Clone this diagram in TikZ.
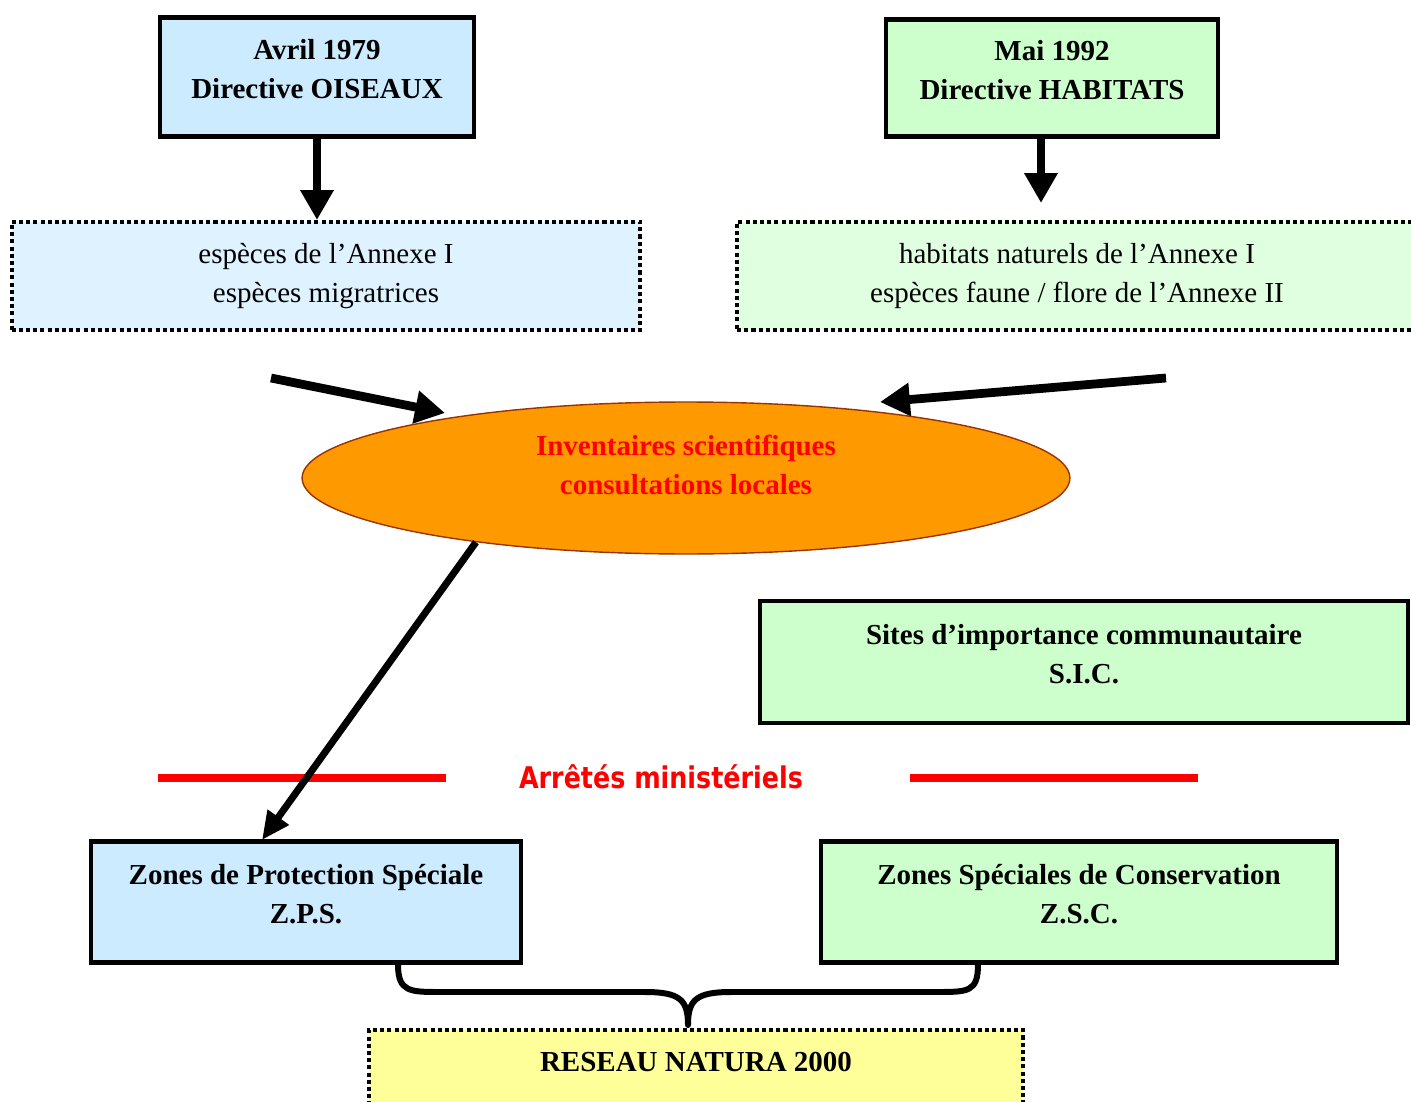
\documentclass[tikz,border=0pt]{standalone}
\usepackage{fontspec}
\setmainfont{Liberation Serif}
\newfontfamily\arrfont[FakeStretch=0.85]{DejaVu Sans}
\usetikzlibrary{arrows.meta,shapes.geometric,positioning}

\definecolor{bleu}{HTML}{CCEBFF}
\definecolor{bleuclair}{HTML}{DFF2FF}
\definecolor{vert}{HTML}{CCFFCC}
\definecolor{vertclair}{HTML}{E0FFE0}
\definecolor{jaune}{HTML}{FFFF99}
\definecolor{orange}{HTML}{FF9900}
\definecolor{brun}{HTML}{993300}

\tikzset{
  txt/.style={font=\fontsize{16.5}{22}\selectfont, align=center},
  solid box/.style={txt, draw, rectangle, line width=2.3pt, text depth=9.5pt, font=\fontsize{16.5}{22}\selectfont\bfseries},
  dotted box/.style={txt, draw, rectangle, line width=2.3pt, dash pattern=on 2.3pt off 1.8pt},
  fat arrow/.style={line width=5pt, -{Triangle[length=17pt,width=18pt]}},
  thin arrow/.style={line width=4pt, -{Triangle[length=16pt,width=14pt]}},
  red bar/.style={red, line width=5pt}
}

\begin{document}
\begin{tikzpicture}[x=0.02cm, y=-0.02cm]
  \useasboundingbox (0,0) rectangle (1411,1102);
  \node [solid box, fill=bleu, minimum width=6.28cm, minimum height=2.38cm] (dir_o) at (317,77) {Avril 1979\\Directive OISEAUX};
  \node [solid box, fill=vert, minimum width=6.64cm, minimum height=2.34cm] (dir_h) at (1052,78) {Mai 1992\\Directive HABITATS};
  \node [dotted box, fill=bleuclair, minimum width=12.58cm, minimum height=2.16cm] (ann_o) at (326,276) {espèces de l’Annexe I\\espèces migratrices};
  \node [dotted box, fill=vertclair, minimum width=13.6cm, minimum height=2.16cm] (ann_h) at (1077,276) {habitats naturels de l’Annexe I\\espèces faune / flore de l’Annexe II};
  \node [ellipse, draw=brun, line width=0.8pt, fill=orange, minimum width=15.36cm, minimum height=3.04cm,
         txt, text depth=15pt, text=red, font=\fontsize{16.5}{22}\selectfont\bfseries] (inv) at (686,478) {Inventaires scientifiques\\consultations locales};
  \node [solid box, fill=vert, minimum width=12.96cm, minimum height=2.44cm] (sic) at (1084,662) {Sites d’importance communautaire\\S.I.C.};
  \node [solid box, fill=bleu, minimum width=8.62cm, minimum height=2.42cm] (zps) at (306,902) {Zones de Protection Spéciale\\Z.P.S.};
  \node [solid box, fill=vert, minimum width=10.34cm, minimum height=2.42cm] (zsc) at (1079,902) {Zones Spéciales de Conservation\\Z.S.C.};
  \node [dotted box, fill=jaune, minimum width=13.08cm, minimum height=1.52cm, text depth=7.5pt, font=\fontsize{16.5}{22}\selectfont\bfseries] (natura) at (696,1068) {RESEAU NATURA 2000};
  \node [text=red, font=\arrfont\fontsize{17}{20}\selectfont\bfseries] (arretes) at (661,777) {Arrêtés ministériels};

  % free ends of the arrows
  \coordinate (h_end) at (1041,203);
  \coordinate (o_in) at (271,378);
  \coordinate (o_tip) at (445,413);
  \coordinate (h_in) at (1166,378);
  \coordinate (h_tip) at (880,402);
  \coordinate (zps_in) at (262,840);

  \draw [red bar] (158,778) -- (446,778);
  \draw [red bar] (910,778) -- (1198,778);

  \path [fat arrow]
    (dir_o.south) edge (dir_o.south |- ann_o.north)
    (dir_h.south -| h_end) edge (h_end)
    (o_in) edge (o_tip)
    (h_in) edge (h_tip);
  \draw [thin arrow] (inv.197) -- (zps_in);

  % accolade
  \draw [line width=3.4pt, line join=round]
    (398,0 |- zps.south) .. controls (398,992) and (410,992) .. (440,992) -- (645,992)
    .. controls (680,992) and (688,1000) .. (688,1025)
    .. controls (688,1000) and (696,992) .. (731,992) -- (937,992)
    .. controls (968,992) and (978,992) .. (978,0 |- zsc.south);
\end{tikzpicture}
\end{document}
